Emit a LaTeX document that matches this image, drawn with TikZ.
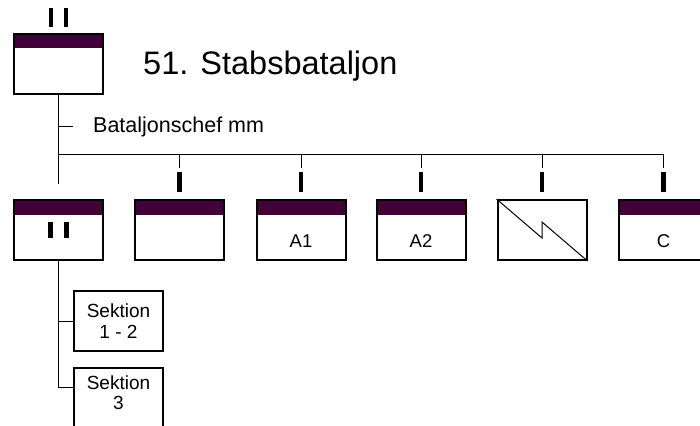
\documentclass[tikz,border=0pt]{standalone}
\usepackage{fontspec}
\setmainfont{Liberation Sans}
\usetikzlibrary{calc}
\definecolor{unitbar}{HTML}{420039}
\def\compmark(#1){\draw[sizebar] ([yshift=7pt]#1.north) -- ([yshift=27pt]#1.north);}

\begin{document}
\begin{tikzpicture}[x=1pt, y=-1pt,
	unit/.style={draw, line width=2pt, minimum width=89pt, minimum height=60pt, inner sep=0pt,
		path picture={\fill[unitbar] (path picture bounding box.north west) rectangle ([yshift=-14.5pt]path picture bounding box.north east);}},
	signal/.style={draw, line width=2pt, minimum width=89pt, minimum height=60pt, inner sep=0pt},
	secbox/.style={draw, line width=1.6pt, minimum width=89.5pt, minimum height=60.5pt, inner sep=0pt, align=center, font=\fontsize{19}{20.5}\selectfont},
	sectext/.style={inner sep=0pt, align=center, font=\fontsize{19}{20.5}\selectfont},
	boxtext/.style={inner sep=0pt, font=\fontsize{18.5}{20}\selectfont},
	titletext/.style={inner sep=0pt, anchor=base west, font=\fontsize{32.5}{39}\selectfont},
	cheftext/.style={inner sep=0pt, anchor=base west, font=\fontsize{21.5}{25}\selectfont},
	conn/.style={line width=0.9pt},
	sizebar/.style={line width=4.5pt}]
		%%%%% START %%%%%
		
		\clip (0, 0) rectangle (700, 425);
		
		\node[unit] (bn) at (58.5, 64) {};
		\draw[sizebar] ([xshift=-7.5pt, yshift=6pt]bn.north) -- ([xshift=-7.5pt, yshift=25pt]bn.north);
		\draw[sizebar] ([xshift=7.5pt, yshift=6pt]bn.north) -- ([xshift=7.5pt, yshift=25pt]bn.north);
		\node[titletext] (title) at (143, 75) {51. Stabsbataljon};
		
		\node[cheftext] (chef) at (93, 132) {Bataljonschef mm};
		\coordinate (rail) at (58.5, 154);
		\coordinate (trunkend) at (58.5, 184);
		\draw[conn] (bn.south) -- (trunkend);
		\draw[conn] (bn.south |- chef.west) -- ([xshift=-20pt]chef.west);
		
		\node[unit] (co1) at (58.5, 230) {};
		\node[unit] (co2) at (179.5, 230) {};
		\node[unit] (co3) at (301, 230) {};
		\node[unit] (co4) at (421, 230) {};
		\node[signal] (co5) at (542, 230) {};
		\node[unit] (co6) at (663.5, 230) {};
		
		\draw[conn] (rail) -- (rail -| co6.north) -- ++(0, 14);
		\draw[conn] (rail -| co2.north) -- ++(0, 14);
		\draw[conn] (rail -| co3.north) -- ++(0, 14);
		\draw[conn] (rail -| co4.north) -- ++(0, 14);
		\draw[conn] (rail -| co5.north) -- ++(0, 14);
		\compmark(co2)
		\compmark(co3)
		\compmark(co4)
		\compmark(co5)
		\compmark(co6)
		
		\draw[sizebar] ($(co1.center)+(-8, -8)$) -- ($(co1.center)+(-8, 8)$);
		\draw[sizebar] ($(co1.center)+(8, -8)$) -- ($(co1.center)+(8, 8)$);
		\node[boxtext] (a1) at ($(co3.center)+(0, 11)$) {A1};
		\node[boxtext] (a2) at ($(co4.center)+(0, 11)$) {A2};
		\node[boxtext] (c) at ($(co6.center)+(0, 11)$) {C};
		\draw[line width=1pt] (co5.north west) -- ($(co5.center)+(0, 8)$) -- ($(co5.center)+(0, -8)$) -- (co5.south east);
		
		\node[secbox] (sek1) at (118.5, 321) {Sektion\\1 - 2};
		\node[secbox] (sek2) at (118.5, 398) {};
		\node[sectext] (sek2txt) at (118.5, 392.5) {Sektion\\3};
		\coordinate (sek2join) at (58.5, 387);
		\draw[conn] (co1.south) -- (sek2join) -- (sek2join -| sek2.west);
		\draw[conn] (co1.south |- sek1.west) -- (sek1.west);
		
		%%%%% END %%%%%
	\end{tikzpicture}
\end{document}
